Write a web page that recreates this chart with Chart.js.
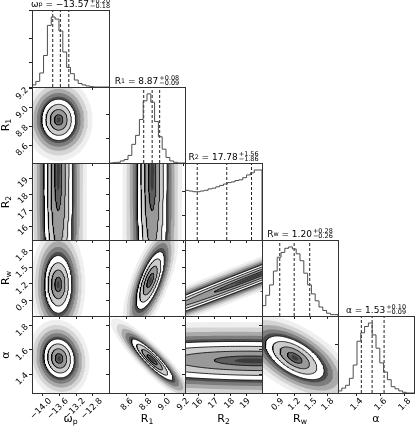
<!DOCTYPE html>
<html>
<head>
<meta charset="utf-8">
<script src="https://cdn.jsdelivr.net/npm/chart.js@4.4.1/dist/chart.umd.min.js"></script>
<style>
  html, body { margin: 0; padding: 0; background: #fff; }
  #fig { position: relative; width: 415px; height: 426px; overflow: hidden; font-family: "DejaVu Sans", sans-serif; color: #000; }
  #fig canvas { position: absolute; }
  .ttl { position: absolute; height: 10px; display: flex; justify-content: center; align-items: center; font-size: 9px; white-space: nowrap; }
  .pm { display: inline-flex; flex-direction: column; font-size: 6.5px; line-height: 5.5px; margin-left: 1px; }
  .xl, .yl { position: absolute; font-size: 11px; text-align: center; white-space: nowrap; }
  .yl { transform: rotate(-90deg); }
  sub { font-size: 70%; vertical-align: -2px; line-height: 0; }
</style>
</head>
<body>
<div id="fig"></div>
<script>
// parameters, in corner order
const paramLabels = ["ω<sub>p</sub>", "R<sub>1</sub>", "R<sub>2</sub>", "R<sub>w</sub>", "α"];
const medians = [-13.57, 8.87, 17.78, 1.20, 1.53];
const errPlus = [0.20, 0.08, 1.56, 0.28, 0.10];
const errMinus = [0.18, 0.09, 1.86, 0.26, 0.09];
const ranges = [[-14.24, -12.42], [8.41, 9.22], [15.15, 20.0], [0.62, 1.99], [1.245, 1.88]];

// tick labels
const tickValues = [
  [-14.0, -13.6, -13.2, -12.8],
  [8.6, 8.8, 9.0, 9.2],
  [16, 17, 18, 19],
  [0.9, 1.2, 1.5, 1.8],
  [1.4, 1.6, 1.8]
];
const tickDecimals = [1, 1, 0, 1, 1];

// 1D histograms, 20 bins over each range, scaled to peak = 1
const histOmegaP = [0.01, 0.03, 0.08, 0.2, 0.45, 0.88, 1.0, 0.97, 0.8, 0.5, 0.28, 0.19, 0.1, 0.05, 0.03, 0.015, 0.005, 0, 0, 0];
const histR1 = [0, 0, 0.005, 0.01, 0.03, 0.05, 0.11, 0.27, 0.4, 0.63, 0.9, 1.0, 0.88, 0.6, 0.38, 0.2, 0.08, 0.03, 0.01, 0];
const histR2 = [0.71, 0.71, 0.70, 0.69, 0.69, 0.70, 0.71, 0.73, 0.74, 0.76, 0.78, 0.80, 0.82, 0.83, 0.85, 0.86, 0.89, 0.93, 0.96, 1.0];
const histRw = [0.05, 0.15, 0.3, 0.45, 0.65, 0.85, 0.92, 0.98, 1.0, 0.97, 0.9, 0.8, 0.62, 0.45, 0.32, 0.22, 0.13, 0.08, 0.04, 0.02];
const histAlpha = [0.005, 0.03, 0.07, 0.11, 0.21, 0.4, 0.74, 0.86, 0.95, 1.0, 0.83, 0.64, 0.43, 0.3, 0.19, 0.09, 0.06, 0.03, 0.01, 0];
const hists = [histOmegaP, histR1, histR2, histRw, histAlpha];

// 2D posteriors: [x param, y param, centre x, centre y, spread x, spread y, correlation]
const pairShapes = [
  [0, 1, -13.61, 8.87, 0.20, 0.11, 0.0],
  [0, 2, -13.62, 19.5, 0.17, 5.0, 0.0],
  [0, 3, -13.62, 1.19, 0.16, 0.26, 0.0],
  [0, 4, -13.60, 1.53, 0.18, 0.08, -0.1],
  [1, 2, 8.87, 19.5, 0.08, 5.0, 0.0],
  [1, 3, 8.85, 1.26, 0.075, 0.26, 0.7],
  [1, 4, 8.87, 1.52, 0.11, 0.085, -0.9],
  [2, 3, 19.5, 1.33, 5.0, 0.56, 0.99],
  [2, 4, 19.5, 1.51, 5.0, 0.08, -0.1],
  [3, 4, 1.21, 1.535, 0.265, 0.09, -0.6]
];

// grid layout
const colX = [32, 109, 185, 262, 338, 414];
const rowY = [10, 87, 163, 240, 316, 393];
const ML = 34, MT = 8, MR = 8, MB = 36;

const contourLevels = [0.25, 0.5, 1, 1.5, 2];
const contourFills = ["#3c3c3c", "#5e5e5e", "#999999", "#cccccc", "#ffffff"];
const haloLevels = [2.25, 2.6, 3.0, 3.45, 4.0];
const haloFills = ["#4d4d4d", "#7d7d7d", "#aaaaaa", "#d4d4d4", "#efefef"];

Chart.defaults.font.family = "DejaVu Sans";
Chart.defaults.color = "#000";

const fig = document.getElementById("fig");

function fmt(v, p) {
  return v.toFixed(tickDecimals[p]).replace("-", "\u2212");
}

function fitTo(size) {
  return s => {
    if (s.isHorizontal()) s.height = size; else s.width = size;
    s.paddingLeft = 0; s.paddingRight = 0; s.paddingTop = 0; s.paddingBottom = 0;
  };
}

const gridOpts = { display: true, drawOnChartArea: false, drawTicks: true, tickLength: 3, color: "#222" };

function paramAxis(p, showLabels, horizontal) {
  return {
    type: "linear",
    min: ranges[p][0],
    max: ranges[p][1],
    afterBuildTicks: s => { s.ticks = tickValues[p].map(v => ({ value: v })); },
    afterFit: fitTo(horizontal ? MB : ML),
    grid: gridOpts,
    border: { display: false },
    ticks: {
      display: showLabels,
      autoSkip: false,
      minRotation: 45,
      maxRotation: 45,
      padding: horizontal ? 0 : 2,
      labelOffset: horizontal ? Math.round(fmt(tickValues[p][0], p).length * 1.6) : 0,
      font: { size: 8.5 },
      callback: v => fmt(v, p)
    }
  };
}

const frame = {
  id: "frame",
  afterDraw(c) {
    const a = c.chartArea, g = c.ctx;
    g.save();
    g.strokeStyle = "#333";
    g.lineWidth = 1;
    g.strokeRect(Math.round(a.left) + 0.5, Math.round(a.top) + 0.5, Math.round(a.width), Math.round(a.height));
    g.restore();
  }
};

function ellipse(cx, cy, sx, sy, rho, r) {
  const pts = [];
  const k = Math.sqrt(1 - rho * rho);
  for (let n = 0; n <= 160; n++) {
    const t = n / 160 * 2 * Math.PI;
    const a = Math.cos(t), b = Math.sin(t);
    pts.push({ x: cx + r * sx * a, y: cy + r * sy * (rho * a + k * b) });
  }
  return pts;
}

function makeCanvas(i, j) {
  const w = ML + colX[j + 1] - colX[j] + MR;
  const h = MT + rowY[i + 1] - rowY[i] + MB;
  const cv = document.createElement("canvas");
  cv.width = w; cv.height = h;
  cv.style.width = w + "px"; cv.style.height = h + "px";
  cv.style.left = (colX[j] - ML) + "px";
  cv.style.top = (rowY[i] - MT) + "px";
  fig.appendChild(cv);
  return cv.getContext("2d");
}

const baseOptions = {
  responsive: false,
  animation: false,
  devicePixelRatio: 1,
  events: [],
  layout: { padding: { left: 0, top: MT, right: MR, bottom: 0 }, autoPadding: false },
  plugins: { legend: { display: false }, tooltip: { enabled: false } },
  elements: { point: { radius: 0 }, line: { tension: 0 } }
};

// diagonal: histograms with quantile lines
for (let p = 0; p < 5; p++) {
  const [lo, hi] = ranges[p];
  const step = (hi - lo) / hists[p].length;
  const pts = [{ x: lo, y: 0 }];
  hists[p].forEach((v, k) => pts.push({ x: lo + k * step, y: v }));
  pts.push({ x: hi, y: hists[p][hists[p].length - 1] });
  pts.push({ x: hi, y: 0 });

  const qs = [medians[p] - errMinus[p], medians[p], medians[p] + errPlus[p]];
  const datasets = [{
    data: pts, stepped: "after", borderColor: "#4d4d4d", borderWidth: 1, fill: false
  }];
  qs.forEach(q => datasets.push({
    data: [{ x: q, y: 0 }, { x: q, y: 1.1 }], borderColor: "#222", borderWidth: 1, borderDash: [3, 2], fill: false
  }));

  new Chart(makeCanvas(p, p), {
    type: "line",
    data: { datasets },
    options: {
      ...baseOptions,
      scales: {
        x: paramAxis(p, p === 4, true),
        y: {
          type: "linear", min: 0, max: 1.1,
          afterFit: fitTo(ML),
          grid: gridOpts, border: { display: false },
          ticks: { display: false, stepSize: 0.35 }
        }
      }
    },
    plugins: [frame]
  });

  const t = document.createElement("div");
  t.className = "ttl";
  t.style.left = colX[p] + "px";
  t.style.width = (colX[p + 1] - colX[p]) + "px";
  t.style.top = (rowY[p] - 11) + "px";
  t.innerHTML = paramLabels[p] + "&nbsp;=&nbsp;" + medians[p].toFixed(2).replace("-", "\u2212") +
    '<span class="pm"><span>+' + errPlus[p].toFixed(2) + '</span><span>\u2212' + errMinus[p].toFixed(2) + "</span></span>";
  fig.appendChild(t);
}

// below diagonal: 2D contours
pairShapes.forEach(([px, py, cx, cy, sx, sy, rho]) => {
  const datasets = [];
  contourLevels.forEach((r, k) => datasets.push({
    data: ellipse(cx, cy, sx, sy, rho, r),
    fill: "shape",
    backgroundColor: contourFills[k],
    borderColor: "#000",
    borderWidth: r === 0.25 ? 0 : 0.8
  }));
  haloLevels.forEach((r, k) => datasets.push({
    data: ellipse(cx, cy, sx, sy, rho, r),
    fill: "shape",
    backgroundColor: haloFills[k],
    borderWidth: 0
  }));

  new Chart(makeCanvas(py, px), {
    type: "line",
    data: { datasets },
    options: {
      ...baseOptions,
      scales: {
        x: paramAxis(px, py === 4, true),
        y: paramAxis(py, px === 0, false)
      }
    },
    plugins: [frame]
  });
});

// axis labels
for (let p = 0; p < 5; p++) {
  const xl = document.createElement("div");
  xl.className = "xl";
  xl.style.left = colX[p] + "px";
  xl.style.width = (colX[p + 1] - colX[p]) + "px";
  xl.style.top = "412px";
  xl.innerHTML = paramLabels[p];
  fig.appendChild(xl);
  if (p > 0) {
    const yl = document.createElement("div");
    yl.className = "yl";
    const mid = (rowY[p] + rowY[p + 1]) / 2;
    yl.style.left = "-14px";
    yl.style.width = "40px";
    yl.style.top = (mid - 7) + "px";
    yl.style.height = "14px";
    yl.innerHTML = paramLabels[p];
    fig.appendChild(yl);
  }
}
</script>
</body>
</html>
